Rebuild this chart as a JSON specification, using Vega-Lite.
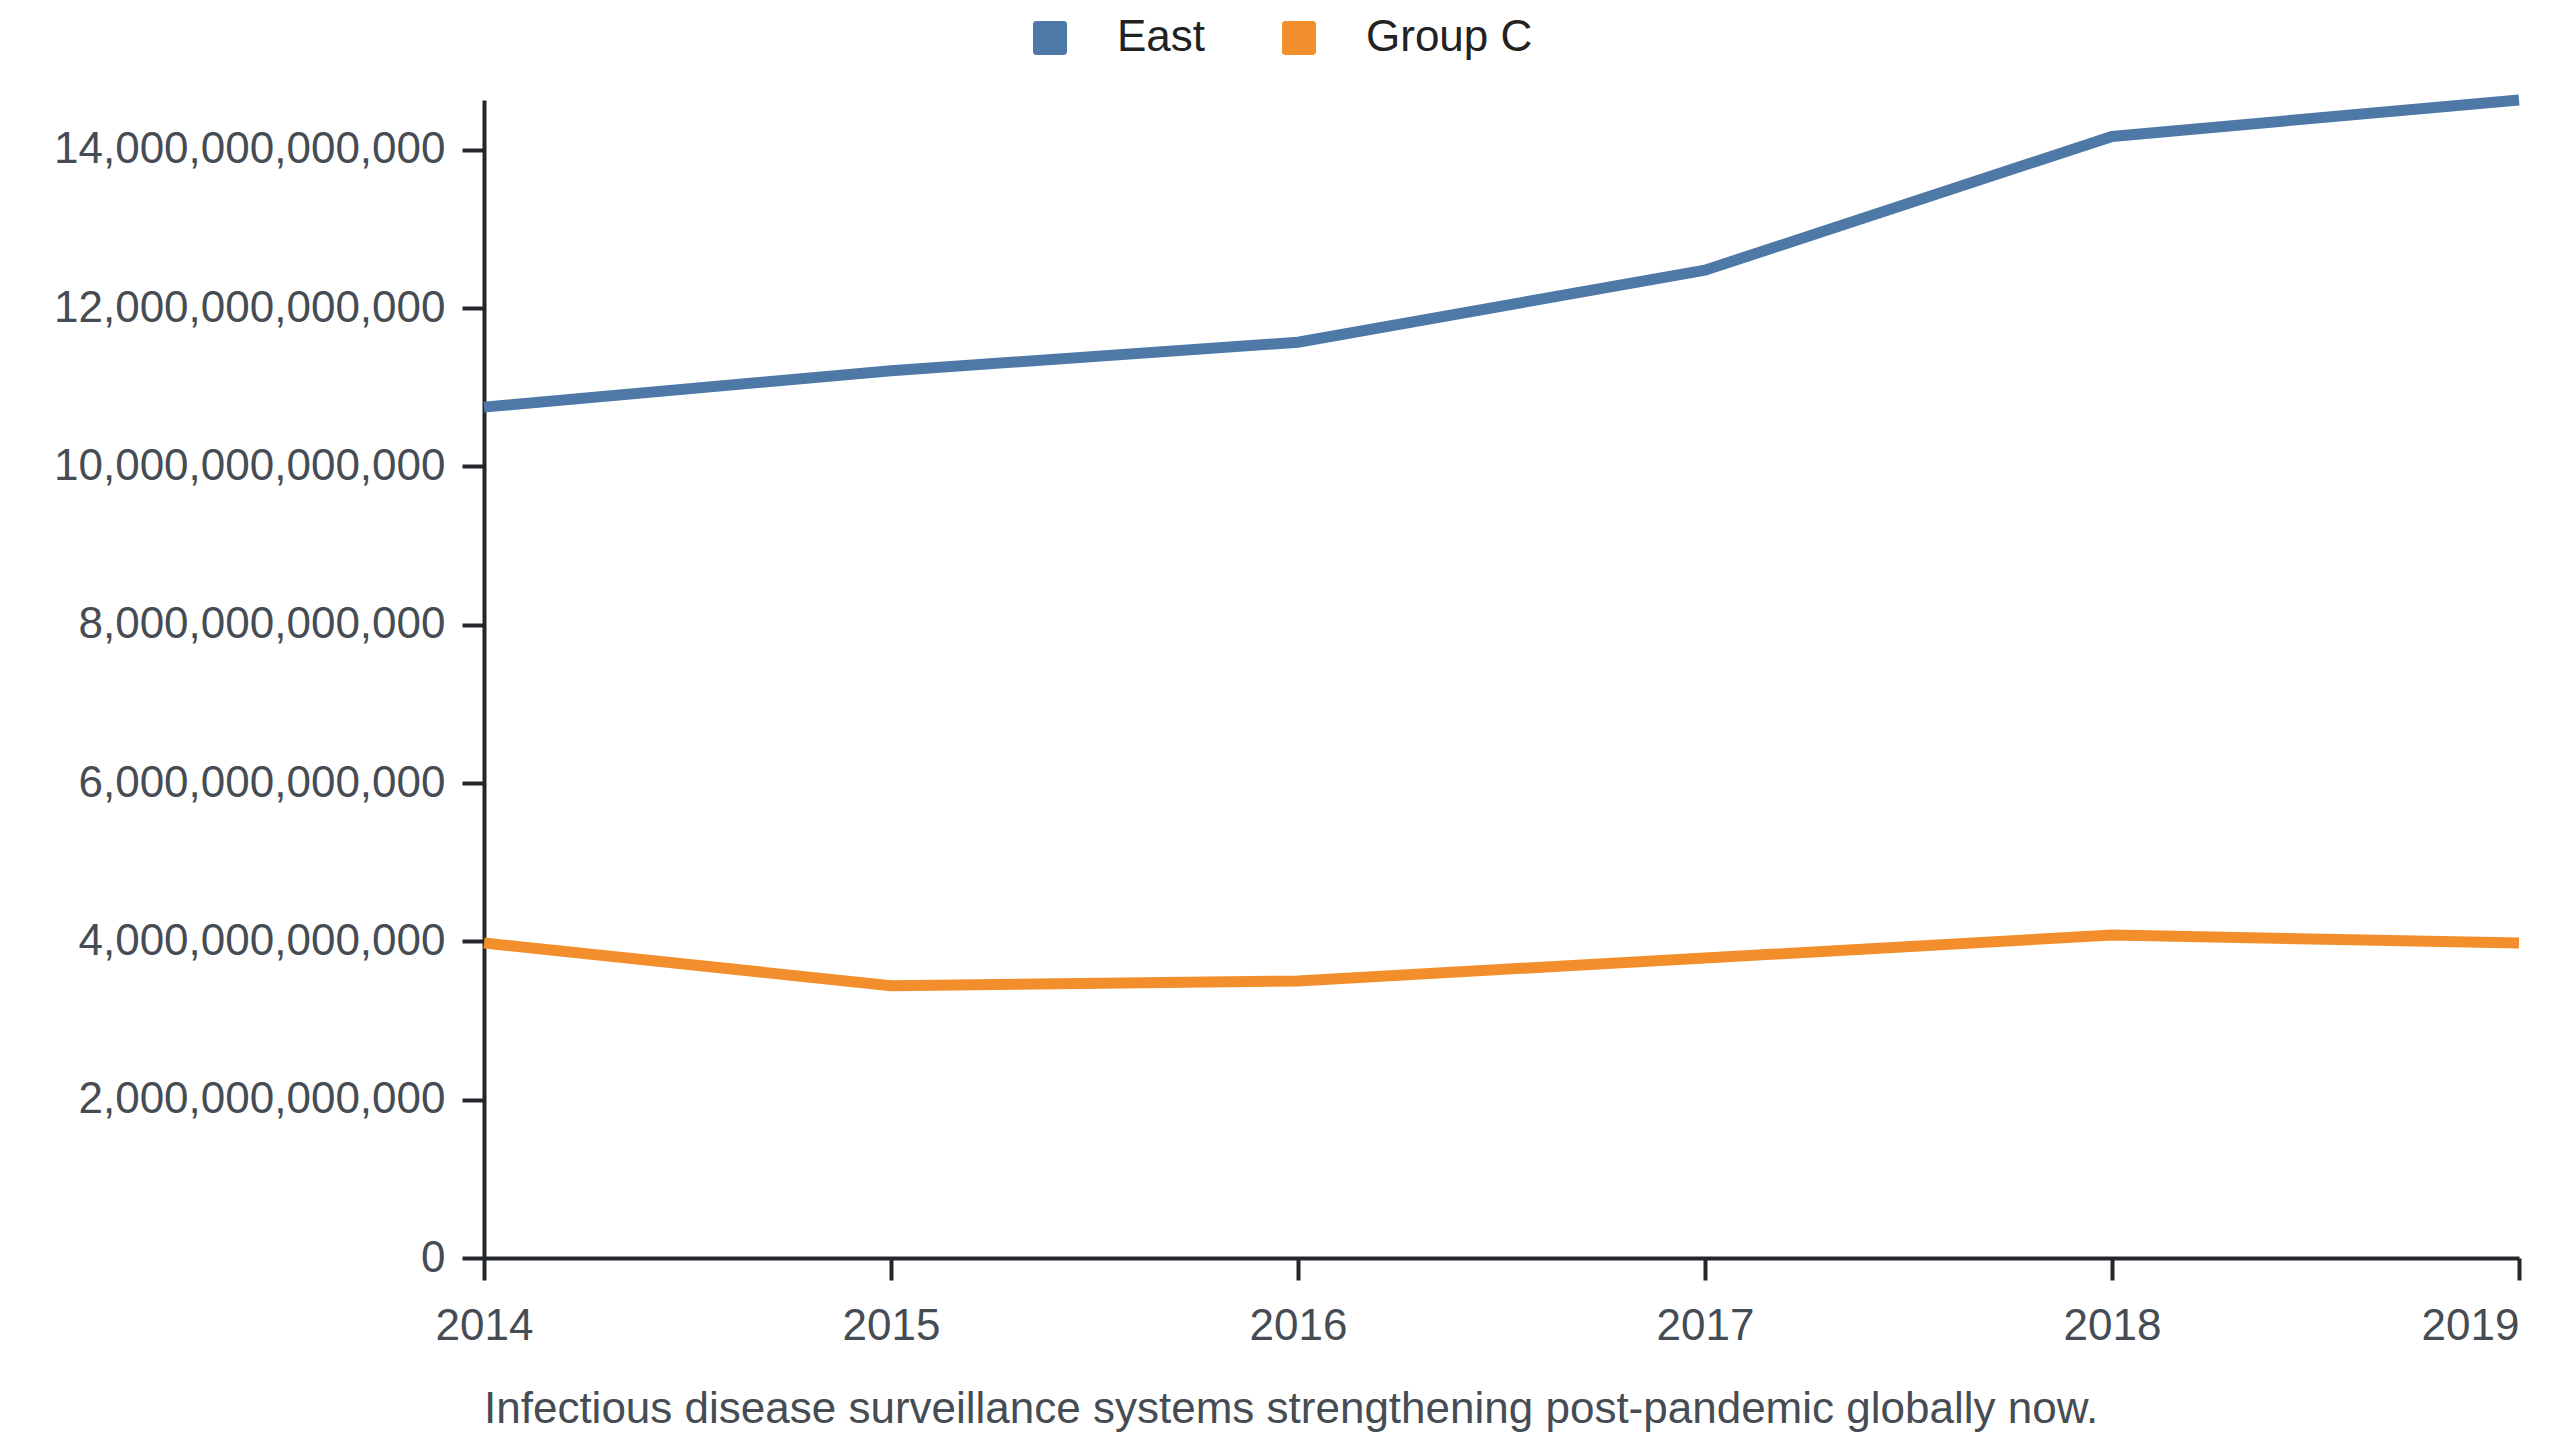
{
  "$schema": "https://vega.github.io/schema/vega-lite/v6.json",
  "description": "East vs Group C, 2014-2019, line chart with caption below.",
  "width": 2035,
  "height": 1158,
  "padding": {"left": 53, "top": 16, "right": 20, "bottom": 10},
  "background": "white",
  "config": {
    "font": "Liberation Sans",
    "view": {"stroke": null},
    "axis": {
      "grid": false,
      "title": null,
      "labelFont": "Liberation Sans",
      "labelFontSize": 44,
      "labelLimit": 0,
      "labelColor": "#464c53",
      "domainColor": "#23272b",
      "domainWidth": 4,
      "tickColor": "#23272b",
      "tickWidth": 4,
      "tickSize": 22
    }
  },
  "title": {
    "text": "Infectious disease surveillance systems strengthening post-pandemic globally now.",
    "orient": "bottom",
    "anchor": "start",
    "frame": "group",
    "fontSize": 44,
    "fontWeight": "normal",
    "color": "#464c53",
    "offset": 40
  },
  "data": {
    "values": [
      {"year": 2014, "series": "East", "value": 10750000000000},
      {"year": 2015, "series": "East", "value": 11210000000000},
      {"year": 2016, "series": "East", "value": 11570000000000},
      {"year": 2017, "series": "East", "value": 12480000000000},
      {"year": 2018, "series": "East", "value": 14170000000000},
      {"year": 2019, "series": "East", "value": 14630000000000},
      {"year": 2014, "series": "Group C", "value": 3980000000000},
      {"year": 2015, "series": "Group C", "value": 3440000000000},
      {"year": 2016, "series": "Group C", "value": 3500000000000},
      {"year": 2017, "series": "Group C", "value": 3790000000000},
      {"year": 2018, "series": "Group C", "value": 4080000000000},
      {"year": 2019, "series": "Group C", "value": 3980000000000}
    ]
  },
  "mark": {"type": "line", "strokeWidth": 11, "strokeJoin": "miter"},
  "encoding": {
    "x": {
      "field": "year",
      "type": "ordinal",
      "scale": {"type": "point", "padding": 0},
      "axis": {
        "labelAngle": 0,
        "labelPadding": 24,
        "labelAlign": {"expr": "datum.value == 2019 ? 'right' : 'center'"}
      }
    },
    "y": {
      "field": "value",
      "type": "quantitative",
      "scale": {"nice": false, "zero": true},
      "axis": {"format": ",d", "tickCount": 8, "labelPadding": 17}
    },
    "color": {
      "field": "series",
      "type": "nominal",
      "scale": {"domain": ["East", "Group C"], "range": ["#4e79a7", "#f28e2b"]},
      "legend": {
        "title": null,
        "orient": "none",
        "direction": "horizontal",
        "legendX": 544,
        "legendY": -84,
        "symbolType": "M-1,-0.8Q-1,-1,-0.8,-1L0.8,-1Q1,-1,1,-0.8L1,0.8Q1,1,0.8,1L-0.8,1Q-1,1,-1,0.8Z",
        "symbolSize": 1156,
        "labelFontSize": 44,
        "labelLimit": 0,
        "labelColor": "#222222",
        "labelOffset": 45,
        "columnPadding": 71,
        "encode": {
          "symbols": {
            "update": {
              "fill": {"scale": "color", "field": "value"},
              "fillOpacity": {"value": 1},
              "stroke": {"value": "transparent"},
              "strokeWidth": {"value": 0}
            }
          }
        }
      }
    }
  }
}
